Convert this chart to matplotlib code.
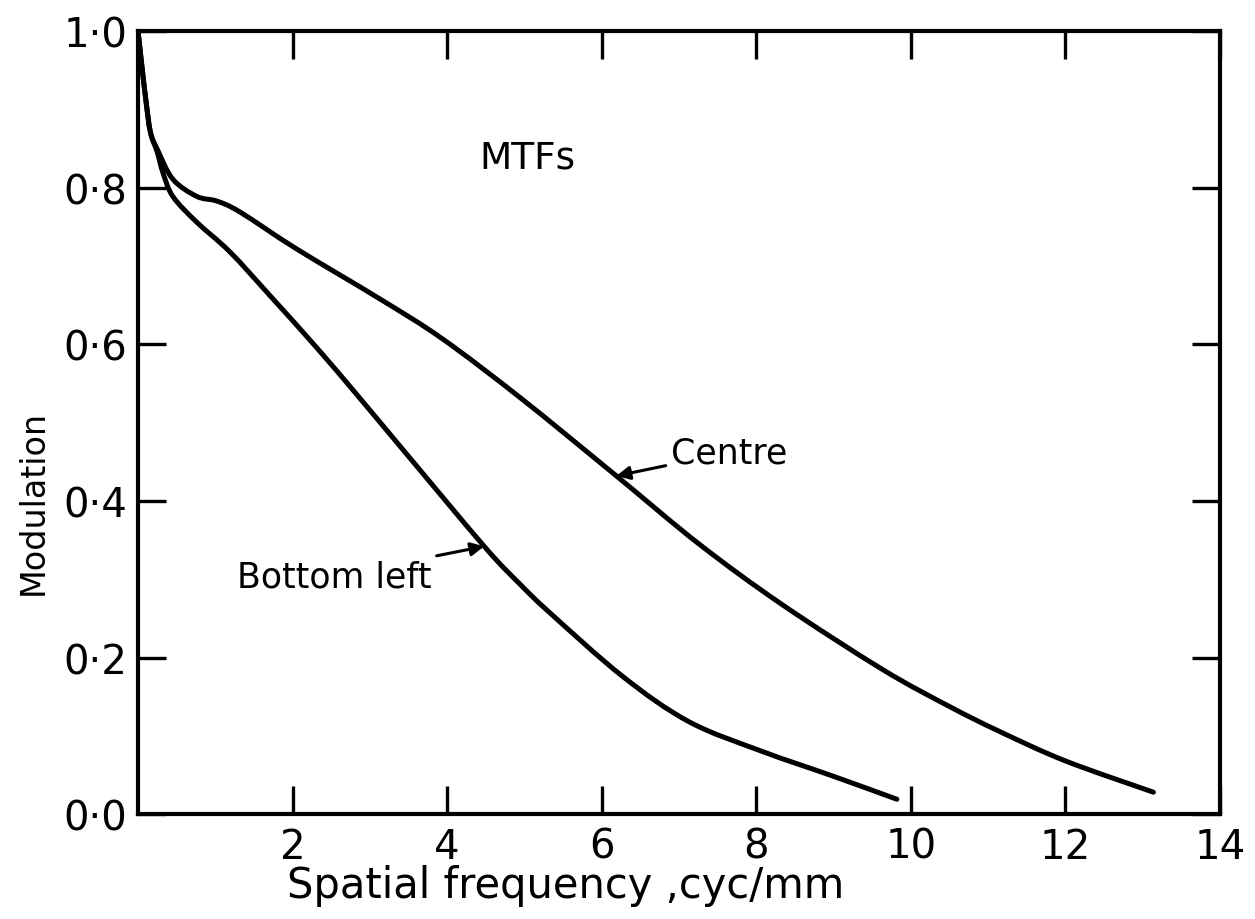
import numpy as np
import matplotlib
matplotlib.use("Agg")
import matplotlib.pyplot as plt
from matplotlib.path import Path
from matplotlib.patches import PathPatch

# values
centre_x = [0, 0.05, 0.1, 0.16, 0.25, 0.45, 0.76, 1.02, 1.32, 2.05, 3.13, 3.94,
            4.97, 6.19, 7.26, 8.33, 9.63, 10.49, 11.14, 12.0, 13.14]
centre_y = [1.0, 0.955, 0.913, 0.871, 0.849, 0.811, 0.789, 0.783, 0.769, 0.722, 0.658, 0.607,
            0.530, 0.432, 0.345, 0.268, 0.185, 0.138, 0.106, 0.068, 0.028]

bottom_x = [0, 0.05, 0.1, 0.16, 0.25, 0.32, 0.45, 0.76, 1.19, 1.71, 2.31, 2.83,
            3.39, 4.48, 4.94, 5.32, 6.27, 7.13, 8.08, 8.98, 9.82]
bottom_y = [1.0, 0.955, 0.913, 0.871, 0.845, 0.82, 0.789, 0.756, 0.718, 0.662, 0.596, 0.536,
            0.470, 0.342, 0.294, 0.258, 0.176, 0.118, 0.080, 0.049, 0.019]

x_ticks = [2, 4, 6, 8, 10, 12, 14]
y_ticks = [0.0, 0.2, 0.4, 0.6, 0.8, 1.0]
y_tick_labels = ['0·0', '0·2', '0·4', '0·6', '0·8', '1·0']


def smooth_path(ax, xs, ys):
    # catmull-rom through the read points, done in display space so the
    # bezier handles are not distorted by the axis aspect
    pts = ax.transData.transform(np.column_stack([xs, ys]))
    verts = [pts[0]]
    codes = [Path.MOVETO]
    n = len(pts)
    for i in range(n - 1):
        p0 = pts[i - 1] if i > 0 else pts[i]
        p1 = pts[i]
        p2 = pts[i + 1]
        p3 = pts[i + 2] if i + 2 < n else pts[i + 1]
        c1 = p1 + (p2 - p0) / 6.0
        c2 = p2 - (p3 - p1) / 6.0
        verts += [c1, c2, p2]
        codes += [Path.CURVE4] * 3
    return Path(verts, codes)


plt.rcParams['font.family'] = ['DejaVu Sans']

fig = plt.figure(figsize=(12.55, 9.2), dpi=100)
ax = fig.add_axes([0.110, 0.114, 0.862, 0.851])
ax.set_xlim(0, 14)
ax.set_ylim(0, 1.0)

for xs, ys in [(centre_x, centre_y), (bottom_x, bottom_y)]:
    p = smooth_path(ax, xs, ys)
    ax.add_patch(PathPatch(p, transform=None, fill=False, edgecolor='black',
                           lw=3.6, capstyle='round', joinstyle='round'))

ax.set_xticks(x_ticks)
ax.set_xticklabels([str(t) for t in x_ticks])
ax.set_yticks(y_ticks)
ax.set_yticklabels(y_tick_labels)

ax.tick_params(direction='in', length=20, width=2.4, top=True, right=True,
               labelsize=29, color='black')
ax.tick_params(axis='x', pad=9)
ax.tick_params(axis='y', pad=8)
for s in ax.spines.values():
    s.set_linewidth(3)

ax.set_xlabel('Spatial frequency ,cyc/mm', fontsize=30)
ax.set_ylabel('Modulation', fontsize=24)
ax.xaxis.set_label_coords(0.395, -0.064)
ax.yaxis.set_label_coords(-0.082, 0.40)

ax.text(4.42, 0.839, 'MTFs', fontsize=27, ha='left', va='center')

ax.annotate('Centre', xy=(6.19, 0.432), xytext=(6.9, 0.462), fontsize=25,
            ha='left', va='center',
            arrowprops=dict(arrowstyle='-|>', color='black', lw=2.2,
                            mutation_scale=20, shrinkA=2, shrinkB=0))
ax.annotate('Bottom left', xy=(4.48, 0.342), xytext=(1.28, 0.304), fontsize=25,
            ha='left', va='center',
            arrowprops=dict(arrowstyle='-|>', color='black', lw=2.2,
                            mutation_scale=20, shrinkA=2, shrinkB=0))

fig.savefig('out.png', dpi=100)
